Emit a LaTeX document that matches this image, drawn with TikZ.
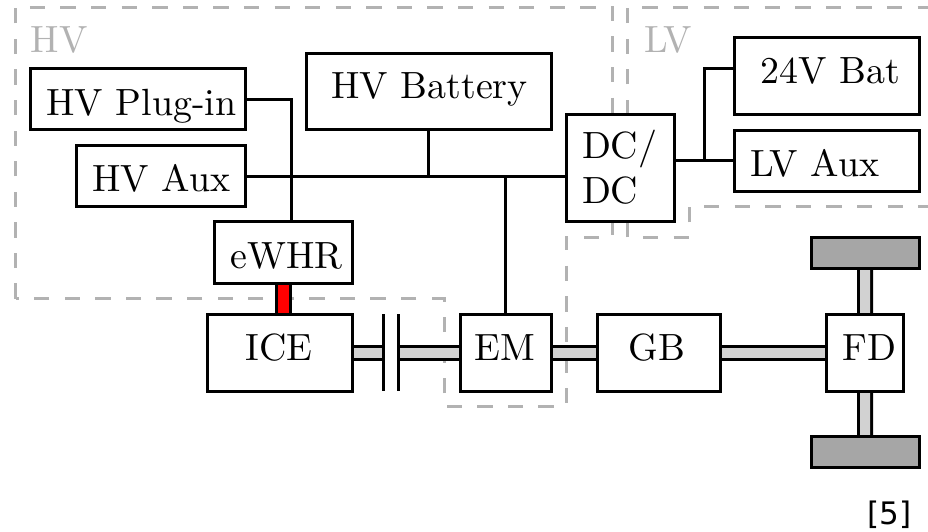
\documentclass[tikz,border=0pt]{standalone}
\usepackage{fontspec}
\newfontfamily\citefont{DejaVu Sans}
\usetikzlibrary{backgrounds}
\definecolor{zonegray}{HTML}{B2B2B2}
\definecolor{shaftgray}{HTML}{D2D2D2}
\definecolor{wheelgray}{HTML}{A6A6A6}
\newcommand{\tx}[1]{\scalebox{3.79}{#1}}
\tikzset{
  box/.style={draw=black,fill=white,line width=3pt,inner sep=0pt,outer sep=0pt,anchor=north west},
  wheelbox/.style={box,fill=wheelgray},
  lab/.style={inner sep=0pt,anchor=base west,text=black},
  zonelab/.style={lab,text=zonegray},
  zone/.style={draw=zonegray,line width=3pt,dash pattern=on 15.3pt off 15.28pt},
  wire/.style={draw=black,line width=3pt},
  shaft/.style={draw=black,line width=3pt,double=shaftgray,double distance=10pt},
  heat/.style={draw=black,line width=3pt,double=red,double distance=10.6pt},
}
\begin{document}
\begin{tikzpicture}[x=1pt,y=-1pt]
\useasboundingbox (0,0) rectangle (928,532);
% boxes
\node[box,minimum width=215pt,minimum height=61pt] (plug) at (30.5,68.7) {};
\node[box,minimum width=245.5pt,minimum height=76.4pt] (bat) at (306,53.3) {};
\node[box,minimum width=168.8pt,minimum height=61.4pt] (aux) at (76.7,145.3) {};
\node[box,minimum width=138.4pt,minimum height=62pt] (ewhr) at (214.3,221.3) {};
\node[box,minimum width=145.4pt,minimum height=77pt] (ice) at (207.3,314) {};
\node[box,minimum width=91.3pt,minimum height=77pt] (em) at (460,314) {};
\node[box,minimum width=122.7pt,minimum height=77pt] (gb) at (597.3,314) {};
\node[box,minimum width=76.6pt,minimum height=77pt] (fd) at (826.7,314) {};
\node[box,minimum width=107.7pt,minimum height=106.6pt] (dc) at (566.3,114.7) {};
\node[box,minimum width=184.3pt,minimum height=76.7pt] (bat24) at (734.7,38) {};
\node[box,minimum width=184.3pt,minimum height=61.3pt] (lvaux) at (734.7,130) {};
\node[wheelbox,minimum width=107.7pt,minimum height=30.7pt] (wheeltop) at (811.3,237.3) {};
\node[wheelbox,minimum width=107.7pt,minimum height=30.6pt] (wheelbot) at (811.3,436.7) {};
% labels
\node[zonelab] (hvl) at (30.7,52.3) {\tx{HV}};
\node[zonelab] (lvl) at (644,52.3) {\tx{LV}};
\node[lab] (t1) at (46.2,115) {\tx{HV Plug-in}};
\node[lab] (t2) at (331.2,99) {\tx{HV Battery}};
\node[lab] (t3) at (92.2,191.7) {\tx{HV Aux}};
\node[lab] (t4) at (230.2,268.7) {\tx{eWHR}};
\node[lab] (t5) at (245.2,360.3) {\tx{ICE}};
\node[lab] (t6) at (474.5,360.3) {\tx{EM}};
\node[lab] (t7) at (628.5,360.3) {\tx{GB}};
\node[lab] (t8) at (842.5,360.3) {\tx{FD}};
\node[lab] (t9) at (581.8,158.3) {\tx{DC/}};
\node[lab] (t10) at (581.8,203.3) {\tx{DC}};
\node[lab] (t11) at (760.2,84) {\tx{24V Bat}};
\node[lab] (t12) at (750.2,176) {\tx{LV Aux}};
\node[lab] (cite) at (867.5,524) {\citefont\fontsize{31}{37}\selectfont [5]};
% free connector ends
\coordinate (ct1) at (383,352.5);
\coordinate (ct2) at (398,352.5);
\coordinate (j1) at (291,221.3);
\coordinate (j2) at (704,68.7);
\coordinate (j3) at (704,160.65);
\coordinate (cl1a) at (383,314);
\coordinate (cl1b) at (383,391);
\coordinate (cl2a) at (398,314);
\coordinate (cl2b) at (398,391);
\begin{pgfonlayer}{background}
  % zones
  \draw[zone] (15.5,298.7) -- (15.5,7.3) -- (612.3,7.3) -- (612.3,237.3) -- (566.3,237.3)
     -- (566.3,406) -- (444,406) -- (444,298.7) -- cycle;
  \draw[zone] (627.7,237.3) -- (627.7,7.3) -- (928,7.3);
  \draw[zone,dash phase=15.3pt] (627.7,237.3) -- (689.3,237.3) -- (689.3,206.7) -- (928,206.7);
  % shafts
  \draw[shaft] (ice.east) -- (ct1);
  \draw[shaft] (ct2) -- (em.west);
  \draw[shaft] (em.east) -- (gb.west);
  \draw[shaft] (gb.east) -- (fd.west);
  \draw[shaft] (wheeltop.south) -- (fd.north);
  \draw[shaft] (fd.south) -- (wheelbot.north);
  \draw[heat] (ewhr.south) -- (ewhr.south |- ice.north);
  % electrical
  \draw[wire] (plug.east) -| (j1);
  \draw[wire] (aux.east) -- (aux.east -| dc.west);
  \draw[wire] (bat.south) -- (bat.south |- aux.east);
  \draw[wire] (em.north) -- (em.north |- aux.east);
  \draw[wire] (lvaux.west) -- (lvaux.west -| dc.east);
  \draw[wire] (j3) -- (j2) -- (j2 -| bat24.west);
\end{pgfonlayer}
% clutch
\draw[wire] (cl1a) -- (cl1b);
\draw[wire] (cl2a) -- (cl2b);
\end{tikzpicture}
\end{document}
